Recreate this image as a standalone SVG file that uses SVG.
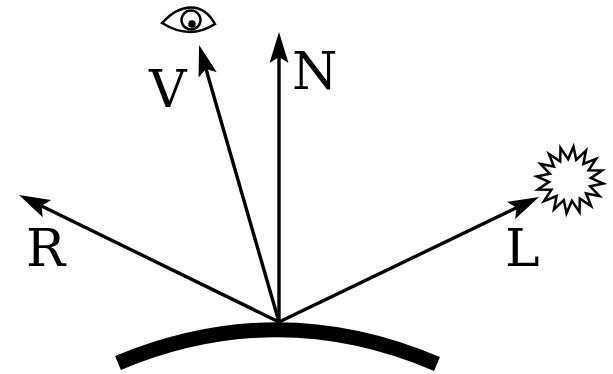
<svg xmlns="http://www.w3.org/2000/svg" width="613" height="374" viewBox="0 0 613 374">
<style>
.lbl{font-family:"DejaVu Serif",serif;font-size:52px;fill:#000}
.ray{stroke:#000;stroke-width:3.4;fill:none;marker-end:url(#head)}
</style>
<defs>
<marker id="head" markerUnits="userSpaceOnUse" markerWidth="34" markerHeight="24" refX="6" refY="11" orient="auto" overflow="visible">
<path d="M31,11 L0,1.5 L6,11 L0,20.5 Z" fill="#000"/>
</marker>
</defs>
<rect width="613" height="374" fill="#fff"/>
<g id="connectors">
<line class="ray" x1="279" y1="322" x2="279" y2="57"/>
<line class="ray" x1="279" y1="322" x2="206" y2="69"/>
<line class="ray" x1="279" y1="322" x2="41.5" y2="206"/>
<line class="ray" x1="279" y1="322" x2="516.5" y2="207.8"/>
</g>
<g id="surface"><path d="M118,363 Q278,296 437,364" fill="none" stroke="#000" stroke-width="15"/></g>
<g id="label-N"><text class="lbl" x="292" y="89">N</text></g>
<g id="label-V"><text class="lbl" x="149" y="107">V</text></g>
<g id="label-R"><text class="lbl" x="26" y="266">R</text></g>
<g id="label-L"><text class="lbl" x="505" y="266">L</text></g>
<g id="eye" fill="none" stroke="#000" stroke-width="2.5">
<path d="M162,23 C172,12 182,7.5 191,7.5 C202,7.5 210,15 215,24 C207,29 198,32 190,32 C180,32 170,28 162,23 Z"/>
<circle cx="191" cy="20" r="9.5"/>
<circle cx="192" cy="24" r="3.8" fill="#000" stroke="none"/>
</g>
<g id="star"><polygon fill="#fff" stroke="#000" stroke-width="2.5" points="573.5,146.7 576.2,159.9 586,150.6 583.4,163.9 596,158.9 588.6,170.2 602.1,170.5 590.9,178.1 603.3,183.5 590.1,186.2 599.4,196 586.1,193.4 591.1,206 579.8,198.6 579.5,212.1 571.9,200.9 566.5,213.3 563.8,200.1 554,209.4 556.6,196.1 544,201.1 551.4,189.8 537.9,189.5 549.1,181.9 536.7,176.5 549.9,173.8 540.6,164 553.9,166.6 548.9,154 560.2,161.4 560.5,147.9 568.1,159.1"/></g>
</svg>
